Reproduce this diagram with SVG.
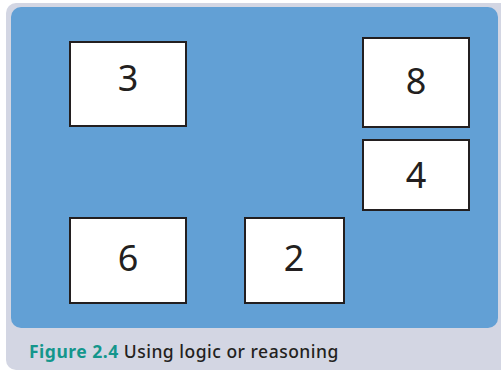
<svg xmlns="http://www.w3.org/2000/svg" width="501" height="372" viewBox="0 0 501 372">
<style>
.box{fill:#ffffff;stroke:#231f20;stroke-width:2}
.num{font-family:"Noto Sans","Open Sans",sans-serif;font-size:36px;fill:#231f20;text-anchor:middle}
.cap{font-family:"Noto Sans","Open Sans",sans-serif;font-size:17.5px;font-weight:500;letter-spacing:0.5px}
</style>
<rect x="6" y="3" width="505" height="367" rx="10" fill="#d3d6e3"/>
<rect x="11" y="7" width="487" height="321" rx="10" fill="#62a0d5"/>
<g id="node-3"><rect class="box" x="70" y="42" width="116" height="84"/><text class="num" x="128" y="91">3</text></g>
<g id="node-8"><rect class="box" x="363" y="38" width="106" height="89"/><text class="num" x="416" y="94">8</text></g>
<g id="node-4"><rect class="box" x="363" y="140" width="106" height="70"/><text class="num" x="416" y="188">4</text></g>
<g id="node-6"><rect class="box" x="70" y="218" width="116" height="85"/><text class="num" x="128" y="271">6</text></g>
<g id="node-2"><rect class="box" x="245" y="218" width="99" height="85"/><text class="num" x="294" y="271">2</text></g>
<g id="connectors"></g>
<text class="cap" x="29" y="358"><tspan fill="#14968c" font-weight="700">Figure 2.4</tspan><tspan fill="#231f20"> Using logic or reasoning</tspan></text>
</svg>
